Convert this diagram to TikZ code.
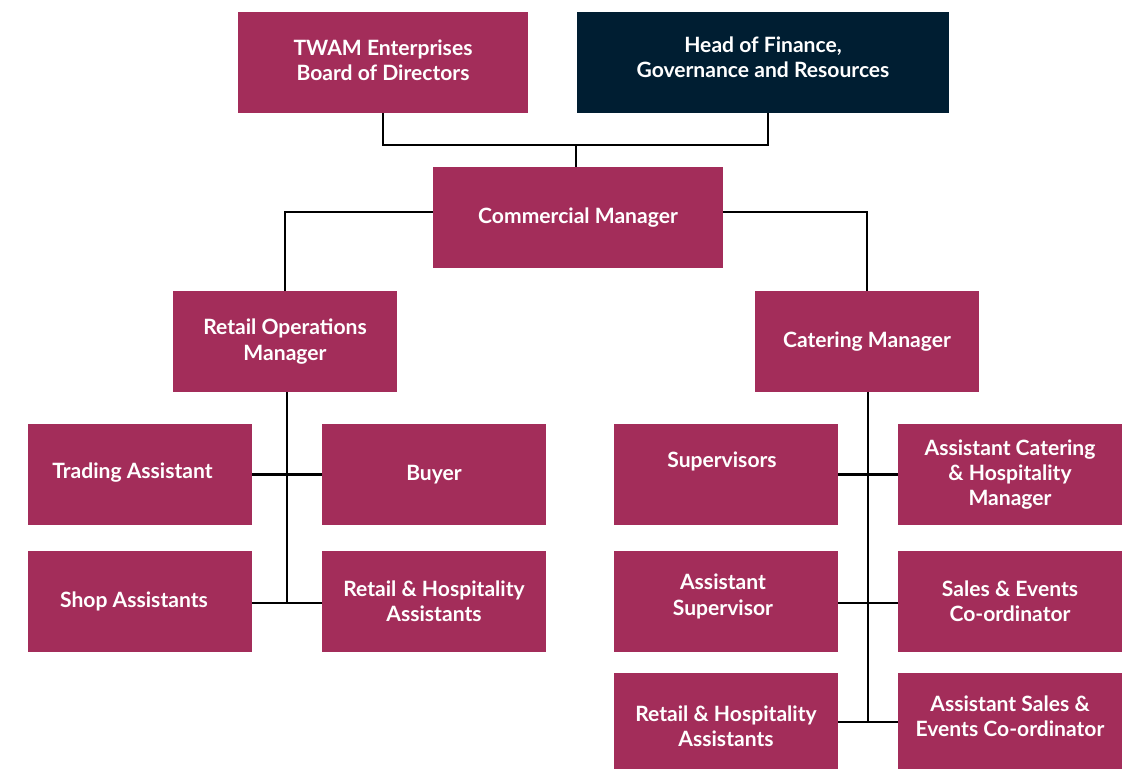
\documentclass[tikz,border=0pt]{standalone}
\usepackage{fontspec}
\setmainfont{Lato}
\definecolor{wine}{HTML}{A32D5A}
\definecolor{navy}{HTML}{001E32}
\begin{document}
\begin{tikzpicture}[x=0.02cm,y=-0.02cm,
  txt/.style={text=white,align=center,font=\fontsize{12}{14.4}\selectfont\bfseries},
  box/.style={fill=wine,draw=none,txt,inner sep=0pt,minimum width=4.48cm,minimum height=2.02cm},
  wide/.style={minimum width=5.8cm},
  link/.style={line width=1.4pt,draw=black}]
\useasboundingbox (0,0) rectangle (1135,770);
% top
\node[box,wide,label={[txt,yshift=0.04cm]center:TWAM Enterprises\\Board of Directors}] (twam) at (383,62.5) {};
\node[box,fill=navy,minimum width=7.44cm,label={[txt,yshift=0.1cm]center:Head of Finance,\\Governance and Resources}] (hof) at (763,62.5) {};
\node[box,wide] (cm) at (578,217.5) {Commercial Manager};
% managers
\node[box] (rom) at (285,341.5) {Retail Operations\\Manager};
\node[box] (cat) at (867,341.5) {Catering Manager};
% left leaves
\node[box,label={[txt,xshift=-0.15cm,yshift=0.04cm]center:Trading Assistant}] (ta) at (140,474.5) {};
\node[box] (buy) at (434,474.5) {Buyer};
\node[box,label={[txt,xshift=-0.12cm]center:Shop Assistants}] (sa) at (140,601.5) {};
\node[box] (rha1) at (434,601.5) {Retail \& Hospitality\\Assistants};
% right leaves
\node[box,label={[txt,xshift=-0.08cm,yshift=0.26cm]center:Supervisors}] (sup) at (726,474.5) {};
\node[box,label={[txt]center:Assistant Catering\\\& Hospitality\\Manager}] (acm) at (1010,474.5) {};
\node[box,label={[txt,xshift=-0.06cm,yshift=0.1cm]center:Assistant\\Supervisor}] (asup) at (726,601.5) {};
\node[box] (sec) at (1010,601.5) {Sales \& Events\\Co-ordinator};
\node[box,minimum height=1.92cm,label={[txt,yshift=-0.1cm]center:Retail \& Hospitality\\Assistants}] (rha2) at (726,721) {};
\node[box,minimum height=1.92cm,label={[txt,yshift=0.1cm]center:Assistant Sales \&\\Events Co-ordinator}] (asec) at (1010,721) {};
% coordinates
\coordinate (j1) at (576,145);
\coordinate (hofb) at (768,113);
\coordinate (ls) at (287,603);
\coordinate (rs) at (868,722);
% connectors
\draw[link] (twam.south) |- (j1) -| (hofb);
\draw[link] (j1) -- (cm.north -| j1);
\draw[link] (cm.west |- 0,212) -| (rom.north);
\draw[link] (cm.east |- 0,212) -| (cat.north);
\draw[link] (rom.south -| ls) -- (ls);
\draw[link] (ta.east) -- (buy.west);
\draw[link] (sa.east |- ls) -- (rha1.west |- ls);
\draw[link] (cat.south -| rs) -- (rs);
\draw[link] (sup.east) -- (acm.west);
\draw[link] (asup.east |- 0,603) -- (sec.west |- 0,603);
\draw[link] (rha2.east |- rs) -- (asec.west |- rs);
\end{tikzpicture}
\end{document}
